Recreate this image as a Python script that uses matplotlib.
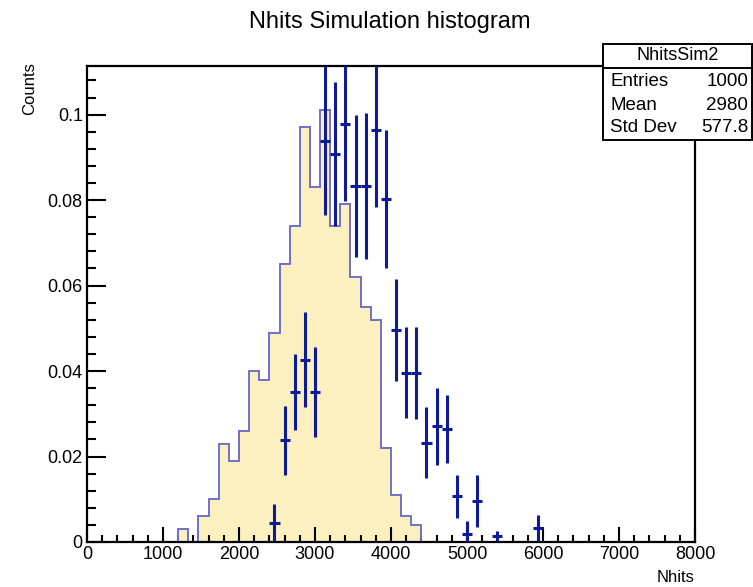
import numpy as np
import matplotlib
matplotlib.use("Agg")
import matplotlib.pyplot as plt
from matplotlib.patches import Rectangle
from matplotlib.lines import Line2D

plt.rcParams['font.family'] = ['Liberation Sans', 'DejaVu Sans']

# ---- data ----
x_min, x_max, n_bins = 0, 8000, 60
sim_first_bin = 9  # bin starting at 1200
sim_values = [0.003, 0.000, 0.006, 0.010, 0.023, 0.019, 0.026, 0.040, 0.038,
              0.049, 0.065, 0.074, 0.097, 0.083, 0.101, 0.074, 0.079, 0.062,
              0.055, 0.052, 0.022, 0.011, 0.006, 0.004]
data_bins = [18, 19, 20, 21, 22, 23, 24, 25, 26, 27, 28, 29, 30, 31, 32, 33,
             34, 35, 36, 37, 38, 40, 44]
data_values = [0.0045, 0.0238, 0.0351, 0.0427, 0.0351, 0.0939, 0.0908, 0.0977,
               0.0833, 0.0833, 0.0964, 0.0802, 0.0496, 0.0396, 0.0396, 0.0232,
               0.0271, 0.0264, 0.0107, 0.0019, 0.0096, 0.0014, 0.0033]
data_errors = [0.0043, 0.0081, 0.0090, 0.0112, 0.0105, 0.0174, 0.0168, 0.0180,
               0.0167, 0.0170, 0.0180, 0.0162, 0.0120, 0.0106, 0.0108, 0.0083,
               0.0090, 0.0080, 0.0050, 0.0030, 0.0060, 0.0011, 0.0030]
y_max = 0.1115
x_ticks = [0, 1000, 2000, 3000, 4000, 5000, 6000, 7000, 8000]
y_ticks = [0, 0.02, 0.04, 0.06, 0.08, 0.1]
y_tick_labels = ["0", "0.02", "0.04", "0.06", "0.08", "0.1"]
stats_title = "NhitsSim2"
stats_names = ["Entries", "Mean", "Std Dev"]
stats_values = ["1000", "2980", "577.8"]

# ---- figure ----
W, H = 753, 587
fig = plt.figure(figsize=(W / 100, H / 100), dpi=100)
ax = fig.add_axes([87 / W, 1 - 542 / H, (695 - 87) / W, (542 - 65.5) / H])

edges = np.linspace(x_min, x_max, n_bins + 1)
bw = edges[1] - edges[0]
sim_edges = edges[sim_first_bin:sim_first_bin + len(sim_values) + 1]
ax.stairs(sim_values, sim_edges, fill=True, color='#fcefc0', baseline=0, zorder=1)
ax.stairs(sim_values, sim_edges, fill=False, color='#7070c8', linewidth=1.4,
          baseline=0, zorder=2)

centers = (edges[:-1] + edges[1:]) / 2
dx = centers[np.array(data_bins)]
ax.errorbar(dx, data_values, yerr=data_errors, xerr=bw / 2, fmt='none',
            ecolor='#0d1a9a', elinewidth=2.2, capsize=0, zorder=3)

ax.set_xlim(x_min, x_max)
ax.set_ylim(0, y_max)
ax.set_xticks(x_ticks)
ax.set_xticks(np.arange(x_min, x_max + 1, 200), minor=True)
ax.set_yticks(y_ticks)
ax.set_yticklabels(y_tick_labels)
ax.set_yticks(np.arange(0, y_max, 0.004), minor=True)
ax.tick_params(axis='both', which='both', direction='in', top=False, right=False,
               width=1.5, labelsize=13, colors='black')
ax.tick_params(axis='x', which='major', length=10.8, pad=3)
ax.tick_params(axis='x', which='minor', length=5)
ax.tick_params(axis='y', which='major', length=13.7, pad=3)
ax.tick_params(axis='y', which='minor', length=6.5)
for s in ax.spines.values():
    s.set_linewidth(1.6)

fig.text(390 / W, 1 - 22 / H, "Nhits Simulation histogram", ha='center',
         va='center', fontsize=17)
fig.text(30 / W, 1 - 62 / H, "Counts", rotation=90, ha='center', va='top',
         fontsize=12)
fig.text(694 / W, 1 - 577 / H, "Nhits", ha='right', va='center', fontsize=12)

# stats box
bx0, bx1, by0, by1, bsep = 602.5, 752, 44, 140, 68
fig.patches.append(Rectangle((bx0 / W, 1 - by1 / H), (bx1 - bx0) / W,
                             (by1 - by0) / H, transform=fig.transFigure,
                             facecolor='white', edgecolor='black', linewidth=1.4,
                             zorder=5))
fig.lines.append(Line2D([bx0 / W, bx1 / W], [1 - bsep / H, 1 - bsep / H],
                        transform=fig.transFigure, color='black', linewidth=1.4,
                        zorder=6))
fig.text((bx0 + bx1) / 2 / W, 1 - 56 / H, stats_title, ha='center', va='center',
         fontsize=13, zorder=7)
for i, (n, v) in enumerate(zip(stats_names, stats_values)):
    yy = 1 - (82 + i * 23) / H
    fig.text(610 / W, yy, n, ha='left', va='center', fontsize=13.5, zorder=7)
    fig.text(748 / W, yy, v, ha='right', va='center', fontsize=13.5, zorder=7)

fig.savefig("out.png", dpi=100, facecolor='white')
